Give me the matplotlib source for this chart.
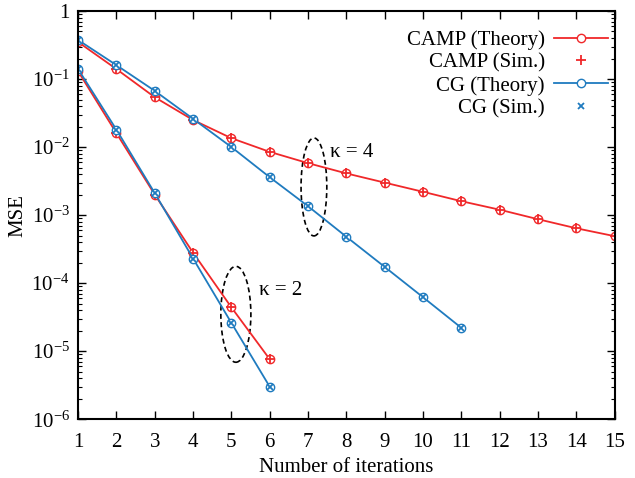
import math
import matplotlib
matplotlib.use("Agg")
import matplotlib.pyplot as plt
from matplotlib.patches import Ellipse
from matplotlib.ticker import LogLocator, FuncFormatter, NullFormatter, FixedLocator

plt.rcParams['font.family'] = ['Liberation Serif', 'DejaVu Serif']
plt.rcParams['mathtext.fontset'] = 'custom'
plt.rcParams['mathtext.rm'] = 'Liberation Serif'
plt.rcParams['mathtext.it'] = 'Liberation Serif:italic'

RED = "#f0282a"
BLUE = "#1f7bbf"

# kappa = 4
it4_camp = list(range(1, 16))
camp4_theory = [0.35, 0.14, 0.054, 0.025, 0.0135, 0.0085, 0.0058, 0.0041, 0.0030,
                0.0022, 0.0016, 0.0012, 0.00087, 0.00064, 0.00049]
camp4_sim = camp4_theory
it4_cg = list(range(1, 12))
cg4_theory = [0.375, 0.16, 0.067, 0.026, 0.010, 0.0036, 0.00135, 0.00048,
              0.000173, 0.000062, 0.000022]
cg4_sim = cg4_theory

# kappa = 2
it2 = list(range(1, 7))
camp2_theory = [0.13, 0.016, 0.0020, 0.00028, 0.000044, 7.6e-6]
camp2_sim = camp2_theory
cg2_theory = [0.14, 0.018, 0.0021, 0.00023, 2.6e-5, 3.0e-6]
cg2_sim = cg2_theory

y_ticks = [1e-6, 1e-5, 1e-4, 1e-3, 1e-2, 1e-1, 1]

fig, ax = plt.subplots(figsize=(6.35, 4.78), dpi=100)
fig.subplots_adjust(left=0.123, right=0.968, top=0.977, bottom=0.123)

lw = 1.3
ax.plot(it4_camp, camp4_theory, '-', color=RED, lw=lw, marker='o', ms=6,
        mfc='white', mew=1.0, label='CAMP (Theory)')
ax.plot(it4_camp, camp4_sim, '+', color=RED, ms=7, mew=1.3, label='CAMP (Sim.)')
ax.plot(it4_cg, cg4_theory, '-', color=BLUE, lw=lw, marker='o', ms=6,
        mfc='white', mew=1.0, label='CG (Theory)')
ax.plot(it4_cg, cg4_sim, 'x', color=BLUE, ms=5, mew=1.3, label='CG (Sim.)')

ax.plot(it2, camp2_theory, '-', color=RED, lw=lw, marker='o', ms=6, mfc='white', mew=1.0)
ax.plot(it2, camp2_sim, '+', color=RED, ms=7, mew=1.3)
ax.plot(it2, cg2_theory, '-', color=BLUE, lw=lw, marker='o', ms=6, mfc='white', mew=1.0)
ax.plot(it2, cg2_sim, 'x', color=BLUE, ms=5, mew=1.3)

ax.set_yscale('log')
ax.set_xlim(1, 15)
ax.set_ylim(1e-6, 1)
ax.set_xticks(range(1, 16))
ax.yaxis.set_major_locator(FixedLocator(y_ticks))
minor = [m * 10.0 ** e for e in range(-6, 0) for m in range(2, 10)]
ax.yaxis.set_minor_locator(FixedLocator(minor))
ax.yaxis.set_minor_formatter(NullFormatter())


def fmt(v, pos):
    if abs(v - 1) < 1e-9:
        return '1'
    return r'$10^{%d}$' % round(math.log10(v))


ax.yaxis.set_major_formatter(FuncFormatter(fmt))
ax.tick_params(which='both', direction='in', top=True, right=True, labelsize=15)
ax.tick_params(which='major', length=6, width=1.0)
ax.tick_params(which='minor', length=3, width=0.8)
ax.tick_params(axis='x', pad=10)
ax.tick_params(axis='y', pad=6)
for s in ax.spines.values():
    s.set_linewidth(1.5)

ax.set_xlabel('Number of iterations', fontsize=15, labelpad=4)
ax.set_ylabel('MSE', fontsize=15, labelpad=3)

ax.add_patch(Ellipse((0.4395, 0.569), 0.048, 0.24, transform=ax.transAxes,
                     fill=False, ls=(0, (3, 2)), lw=1.2, color='black'))
ax.add_patch(Ellipse((0.294, 0.257), 0.056, 0.235, transform=ax.transAxes,
                     fill=False, ls=(0, (3, 2)), lw=1.2, color='black'))
ax.text(0.469, 0.654, r'κ = 4', transform=ax.transAxes, fontsize=15, va='center')
ax.text(0.337, 0.316, r'κ = 2', transform=ax.transAxes, fontsize=15, va='center')

ax.legend(loc='upper right', bbox_to_anchor=(1.0, 0.968), frameon=False,
          markerfirst=False, fontsize=15, handlelength=2.6, labelspacing=0.15,
          borderaxespad=0.0, borderpad=0.3, handletextpad=0.45)

fig.savefig('out.png', dpi=100)
